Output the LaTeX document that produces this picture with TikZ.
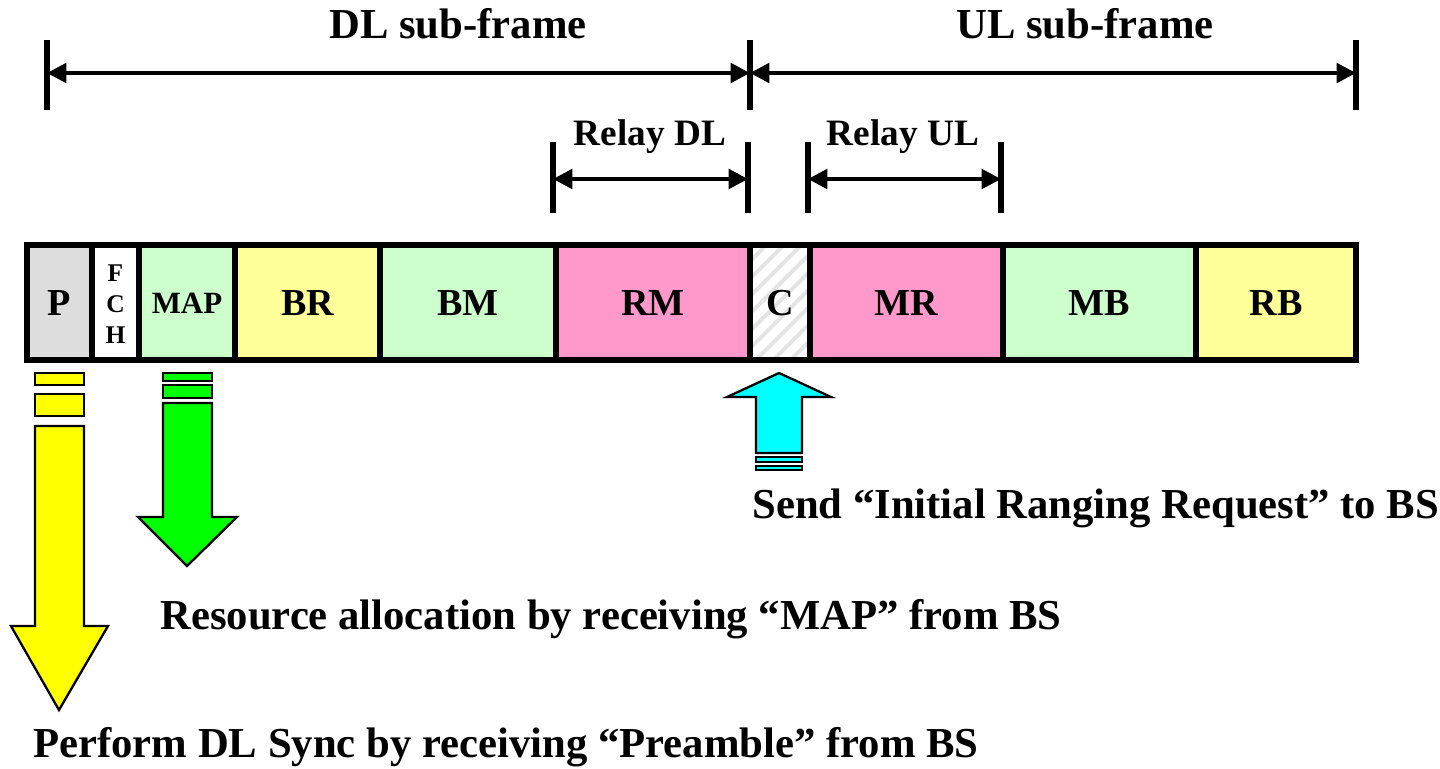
\documentclass[tikz,border=0pt]{standalone}
\usepackage{fontspec}
\setmainfont{Liberation Serif}
\usetikzlibrary{arrows.meta,patterns.meta}
\definecolor{cellgray}{RGB}{221,221,221}
\definecolor{cellgreen}{RGB}{204,255,204}
\definecolor{cellyellow}{RGB}{255,255,153}
\definecolor{cellpink}{RGB}{255,153,204}
\definecolor{arrowyellow}{RGB}{255,255,0}
\definecolor{arrowgreen}{RGB}{0,255,0}
\definecolor{arrowcyan}{RGB}{0,255,255}
\tikzset{
	cell/.style={draw,line width=3pt},
	dimline/.style={line width=2.3pt,
		{Triangle[length=11pt,width=11pt]}-{Triangle[length=11pt,width=11pt]}},
	tickline/.style={line width=3pt},
	blockarrow/.style={draw,line width=1.3pt,line join=miter},
	big/.style={font=\bfseries\fontsize{24.3}{28}\selectfont},
}
\begin{document}
\begin{tikzpicture}[x=0.02cm,y=-0.02cm]
		\useasboundingbox (0,0) rectangle (1440,768);
		\pgfmathsetmacro{\top}{245}
		\pgfmathsetmacro{\bot}{360}
		\pgfmathsetmacro{\mid}{303}
		% frame cells
		\foreach \a/\b/\c/\n/\t/\s in {27/92/cellgray/P/P/21.7,139/235/cellgreen/MAP/MAP/17.6,
			235/380/cellyellow/BR/BR/21.7,380/556/cellgreen/BM/BM/21.7,556/750/cellpink/RM/RM/21.7,
			810/1003/cellpink/MR/MR/21.7,1003/1196/cellgreen/MB/MB/21.7,1196/1356/cellyellow/RB/RB/21.7}{
			\draw[cell,fill=\c] (\a,\top) rectangle (\b,\bot);
			\node[font=\bfseries\fontsize{\s}{\s}\selectfont] (\n) at ({(\a+\b)/2},\mid) {\t};
		}
		\draw[cell,fill=white] (92,\top) rectangle (139,\bot);
		\node[font=\bfseries\fontsize{14.5}{17.6}\selectfont,align=center] (FCH) at (115.5,304) {F\\C\\H};
		\draw[cell,pattern={Lines[angle=45,distance=7pt,line width=2.2pt]},pattern color=gray!22]
			(750,\top) rectangle (810,\bot);
		\node[font=\bfseries\fontsize{21.7}{21.7}\selectfont] (C) at (780,\mid) {C};
		% sub-frame spans
		\coordinate (dlL) at (47,73);
		\coordinate (dlR) at (750,73);
		\coordinate (ulR) at (1356,73);
		\draw[tickline] (47,40)--(47,110) (750,40)--(750,110) (1356,40)--(1356,110);
		\draw[dimline] (dlL)--(dlR);
		\draw[dimline] (dlR)--(ulR);
		\node[big,anchor=base] (dlLabel) at (458,38) {DL sub-frame};
		\node[big,anchor=base] (ulLabel) at (1085,38) {UL sub-frame};
		% relay spans
		\coordinate (rdL) at (553,179);
		\coordinate (rdR) at (748,179);
		\coordinate (ruL) at (808,179);
		\coordinate (ruR) at (1001,179);
		\draw[tickline] (553,142)--(553,213) (748,142)--(748,213)
			(808,142)--(808,213) (1001,142)--(1001,213);
		\draw[dimline] (rdL)--(rdR);
		\draw[dimline] (ruL)--(ruR);
		\node[font=\bfseries\fontsize{21.2}{24}\selectfont,anchor=base] (rdLabel) at (650,145) {Relay DL};
		\node[font=\bfseries\fontsize{21.2}{24}\selectfont,anchor=base] (ruLabel) at (903,145) {Relay UL};
		% block arrows
		\begin{scope}[blockarrow]
			\draw[fill=arrowyellow] (35,373) rectangle (84,385) (35,394) rectangle (84,416);
			\draw[fill=arrowyellow] (35,426)--(84,426)--(84,626)--(108,626)--(59,710)--(11,626)--(35,626)--cycle;
			\draw[fill=arrowgreen] (163,373) rectangle (212,381) (163,385) rectangle (212,398);
			\draw[fill=arrowgreen] (163,403)--(212,403)--(212,517)--(237,517)--(187,566)--(138,517)--(163,517)--cycle;
			\draw[fill=arrowcyan] (779,373)--(831,397)--(802,397)--(802,453)--(756,453)--(756,397)--(727,397)--cycle;
			\draw[fill=arrowcyan] (756,457) rectangle (802,462) (756,466) rectangle (802,470);
		\end{scope}
		% captions
		\node[big,anchor=base west,inner sep=0pt] (sendText) at (752,518) {Send ``Initial Ranging Request'' to BS};
		\node[big,anchor=base west,inner sep=0pt] (mapText) at (160,629) {Resource allocation by receiving ``MAP'' from BS};
		\node[big,anchor=base west,inner sep=0pt] (syncText) at (33,757) {Perform DL Sync by receiving ``Preamble'' from BS};
	\end{tikzpicture}
\end{document}
